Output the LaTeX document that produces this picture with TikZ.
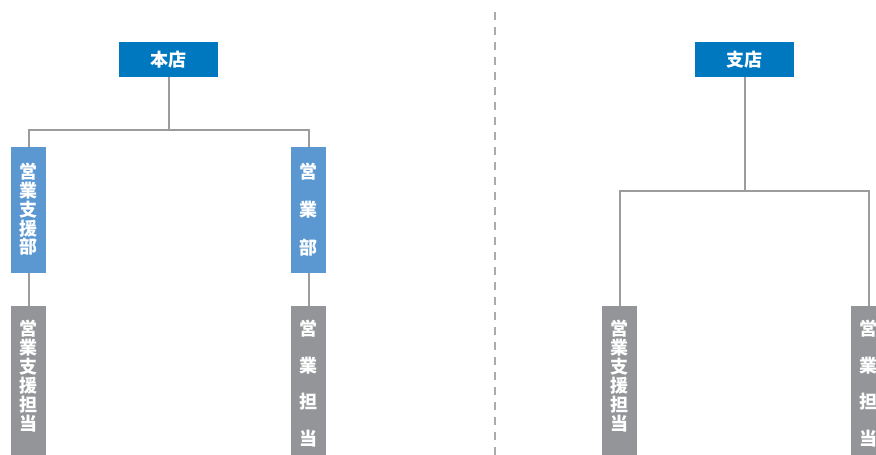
\documentclass[tikz,border=0pt]{standalone}
\usepackage{fontspec}
\newfontfamily\jpfont{Noto Sans CJK JP}
\usepackage{tikz}

\definecolor{shopblue}{HTML}{0078C0}
\definecolor{deptblue}{HTML}{5B98D2}
\definecolor{staffgray}{HTML}{939598}
\definecolor{linegray}{HTML}{9C9C9E}

% vertical (tate) text: box height, then the characters
\newcommand{\tate}[2]{\parbox[c][#1][t]{1.1em}{\centering #2}}

\tikzset{
    shopbox/.style={fill=shopblue, text=white, font=\jpfont\bfseries\fontsize{18}{20}\selectfont,
        minimum width=99pt, minimum height=35pt, inner sep=0pt},
    deptbox/.style={fill=deptblue, text=white, font=\jpfont\bfseries\fontsize{18}{18.8}\selectfont,
        minimum width=35pt, minimum height=126pt, inner sep=0pt, anchor=north},
    staffbox/.style={fill=staffgray, text=white, font=\jpfont\bfseries\fontsize{18}{19}\selectfont,
        minimum width=35pt, inner xsep=0pt, inner ysep=14pt, anchor=north},
    link/.style={draw=linegray, line width=2pt}
}

\begin{document}
\begin{tikzpicture}[x=1pt, y=-1pt]
    \useasboundingbox (0,0) rectangle (876,455);
    \clip (0,0) rectangle (876,455);

    % Divider
    \draw[draw=linegray!85, line width=1.5pt, dash pattern=on 8pt off 7pt] (495,12) -- (495,455);

    % Head office
    \node[shopbox] (hq) at (168.5,59.5) {本店};
    \node[deptbox] (support) at (28.5,147) {\tate{94pt}{営\\業\\支\\援\\部}};
    \node[deptbox] (sales) at (308.5,147) {\tate{94pt}{営\\[19pt]業\\[19pt]部}};
    \node[staffbox] (supportstaff) at (28.5,306) {\tate{150pt}{営\\業\\支\\援\\担\\当}};
    \node[staffbox] (salesstaff) at (308.5,306) {\tate{150pt}{営\\[17.5pt]業\\[17.5pt]担\\[17.5pt]当}};

    \coordinate (hqfork) at (168.5,130);
    \draw[link] (hq.south) -- (hqfork) -| (support.north);
    \draw[link] (hqfork) -| (sales.north);
    \draw[link] (support.south) -- (supportstaff.north);
    \draw[link] (sales.south) -- (salesstaff.north);

    % Branch office
    \node[shopbox] (branch) at (744.5,59.5) {支店};
    \node[staffbox] (branchsupport) at (619.5,306) {\tate{150pt}{営\\業\\支\\援\\担\\当}};
    \node[staffbox] (branchsales) at (868.5,306) {\tate{150pt}{営\\[17.5pt]業\\[17.5pt]担\\[17.5pt]当}};

    \coordinate (branchfork) at (744.5,191);
    \draw[link] (branch.south) -- (branchfork) -| (branchsupport.north);
    \draw[link] (branchfork) -| (branchsales.north);
\end{tikzpicture}
\end{document}
